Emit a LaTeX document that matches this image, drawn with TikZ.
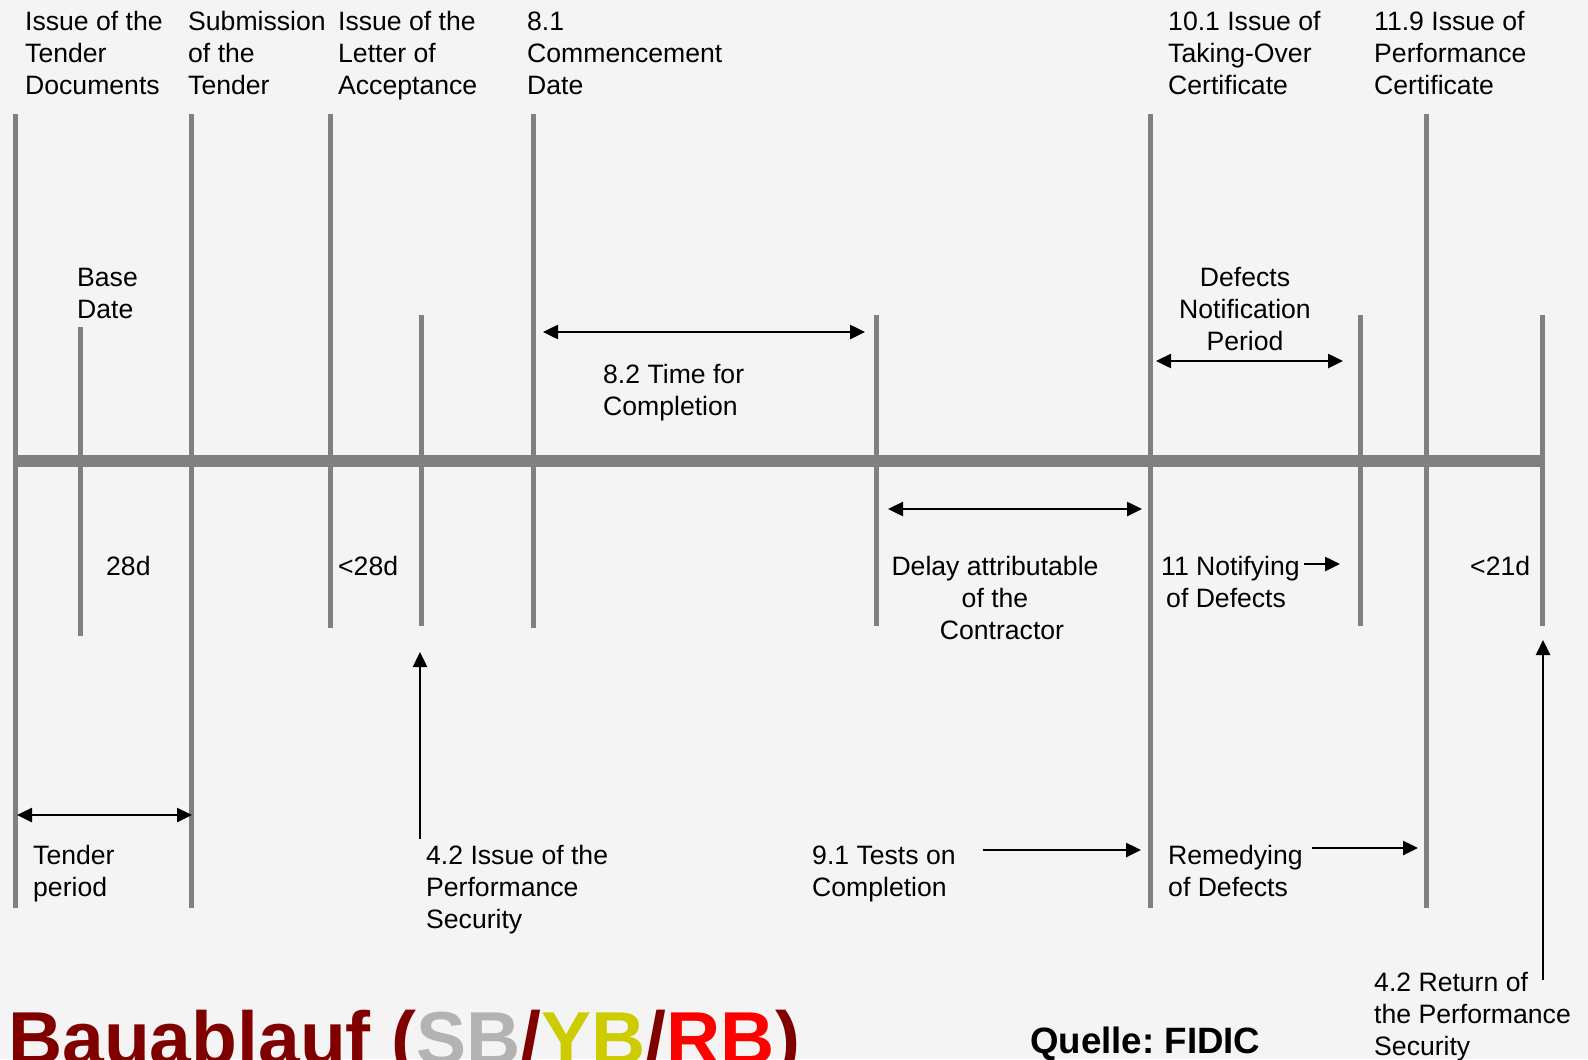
\documentclass[tikz,border=0pt]{standalone}
\usepackage{fontspec}
\setmainfont{Liberation Sans}
\usetikzlibrary{arrows.meta}
\definecolor{bg}{HTML}{F3F4F3}
\definecolor{tl}{HTML}{808080}
\definecolor{titlered}{HTML}{800000}
\definecolor{sbgray}{HTML}{B3B3B3}
\definecolor{ybyellow}{HTML}{CCCC00}
\definecolor{rbred}{HTML}{FF0000}
\frenchspacing
\begin{document}
\begin{tikzpicture}[x=1bp,y=-1bp,
  lbl/.style={anchor=base west, inner sep=0, align=left, font=\fontsize{26.7}{32}\selectfont},
  lblc/.style={anchor=base, inner sep=0, align=center, font=\fontsize{26.7}{32}\selectfont},
  tick/.style={draw=tl, line width=5bp},
  axis/.style={draw=tl, line width=12bp},
  arr/.style={-{Triangle[length=15bp,width=14bp]}, line width=2.5bp},
  darr/.style={{Triangle[length=15bp,width=14bp]}-{Triangle[length=15bp,width=14bp]}, line width=2.5bp}]
\fill[bg] (0,0) rectangle (1588,1059);
\useasboundingbox (0,0) rectangle (1588,1059);
% timeline axis
\coordinate (axL) at (15,461);
\coordinate (axR) at (1542,461);
\draw[axis] (axL) -- (axR);
% ticks
\foreach \n/\x/\ya/\yb in {t1/15/114/908, t2/80/327/636, t3/191/114/908, t4/330/114/628,
  t5/421/315/626, t6/533/114/628, t7/876/315/626, t8/1150/114/908, t9/1360/315/626,
  t10/1426/114/908, t11/1542/315/626}{
  \coordinate (\n a) at (\x,\ya);
  \coordinate (\n b) at (\x,\yb);
  \draw[tick] (\n a) -- (\n b);
}
% top labels (anchor = baseline of last line)
\node[lbl] (l1) at (25,94) {Issue of the\\Tender\\Documents};
\node[lbl] (l2) at (188,94) {Submission\\of the\\Tender};
\node[lbl] (l3) at (338,94) {Issue of the\\Letter of\\Acceptance};
\node[lbl] (l4) at (527,94) {8.1\\Commencement\\Date};
\node[lbl] (l5) at (1168,94) {10.1 Issue of\\Taking-Over\\Certificate};
\node[lbl] (l6) at (1374,94) {11.9 Issue of\\Performance\\Certificate};
\node[lbl] (l7) at (77,318) {Base\\Date};
\node[lblc] (l8) at (1245,350) {Defects\\Notification\\Period};
% time for completion
\coordinate (tcA) at (543,332);
\coordinate (tcB) at (865,332);
\draw[darr] (tcA) -- (tcB);
\node[lbl] (l9) at (603,415) {8.2 Time for\\Completion};
% DNP arrow
\coordinate (dnA) at (1156,361);
\coordinate (dnB) at (1343,361);
\draw[darr] (dnA) -- (dnB);
% middle labels
\node[lbl] (l10) at (106,575) {28d};
\node[lbl] (l11) at (338,575) {<28d};
\node[lbl] (l12) at (1470,575) {<21d};
\coordinate (dlA) at (888,509);
\coordinate (dlB) at (1142,509);
\draw[darr] (dlA) -- (dlB);
\node[lblc] (l13) at (995,639) {Delay attributable\\of the\\\hspace*{14bp}Contractor};
\node[lbl] (l14) at (1161,607) {11 Notifying\\\hspace*{5bp}of Defects};
\coordinate (nfA) at (1304,564);
\coordinate (nfB) at (1340,564);
\draw[arr] (nfA) -- (nfB);
% lower part
\coordinate (tpA) at (17,815);
\coordinate (tpB) at (192,815);
\draw[darr] (tpA) -- (tpB);
\node[lbl] (l15) at (33,896) {Tender\\period};
\coordinate (psA) at (420,839);
\coordinate (psB) at (420,652);
\draw[arr] (psA) -- (psB);
\node[lbl] (l16) at (426,928) {4.2 Issue of the\\Performance\\Security};
\node[lbl] (l17) at (812,896) {9.1 Tests on\\Completion};
\coordinate (toA) at (983,850);
\coordinate (toB) at (1141,850);
\draw[arr] (toA) -- (toB);
\node[lbl] (l18) at (1168,896) {Remedying\\of Defects};
\coordinate (rdA) at (1312,848);
\coordinate (rdB) at (1418,848);
\draw[arr] (rdA) -- (rdB);
\coordinate (rpA) at (1543,980);
\coordinate (rpB) at (1543,640);
\draw[arr] (rpA) -- (rpB);
\node[lbl] (l19) at (1374,1055) {4.2 Return of\\the Performance\\Security};
% title and source
\node[anchor=base west, inner sep=0, text=titlered, font=\bfseries\fontsize{75.3}{80}\selectfont] (title) at (8,1064)
  {Bauablauf (\textcolor{sbgray}{SB}/\textcolor{ybyellow}{YB}/\textcolor{rbred}{RB})};
\node[anchor=base west, inner sep=0, font=\bfseries\fontsize{36.8}{40}\selectfont] (src) at (1030,1053) {Quelle: FIDIC};
\end{tikzpicture}
\end{document}
